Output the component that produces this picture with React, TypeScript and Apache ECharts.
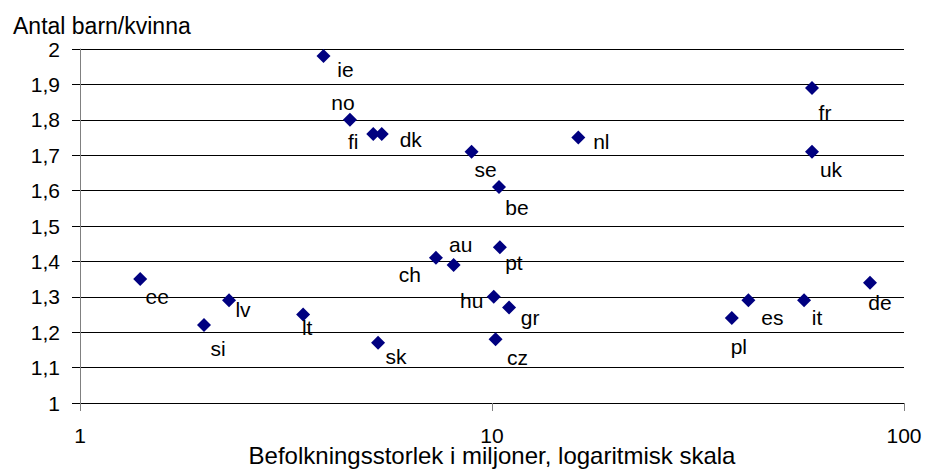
import React, { useEffect, useRef } from "react";
import * as echarts from "echarts";

// Country codes, population (millions) and total fertility rate
const countries = ["ie", "no", "fi", "dk", "se", "nl", "fr", "uk", "ee", "lv", "be", "ch", "au", "pt", "hu", "gr", "cz", "sk", "si", "lt", "pl", "es", "it", "de"];
const population = [3.9, 4.52, 5.15, 5.4, 8.92, 16.2, 59.8, 59.8, 1.4, 2.3, 10.4, 7.31, 8.07, 10.45, 10.1, 11.0, 10.2, 5.29, 2.0, 3.48, 38.2, 41.9, 57.2, 82.7];
const fertility = [1.98, 1.8, 1.76, 1.76, 1.71, 1.75, 1.89, 1.71, 1.35, 1.29, 1.61, 1.41, 1.39, 1.44, 1.3, 1.27, 1.18, 1.17, 1.22, 1.25, 1.24, 1.29, 1.29, 1.34];

const yAxisTitle = "Antal barn/kvinna";
const xAxisTitle = "Befolkningsstorlek i miljoner, logaritmisk skala";

// Label placement (style): offset of label centre from marker centre, px
const labelOffsets: Record<string, [number, number]> = {
  ie: [22, 13], no: [-7, -17], fi: [-20, 8], dk: [29, 6], se: [14, 18], nl: [23, 4],
  fr: [13, 25], uk: [19, 18], ee: [17, 17], lv: [14, 9], be: [18, 20], ch: [-26, 17],
  au: [7, -20], pt: [14, 15], hu: [-22, 4], gr: [21, 10], cz: [22, 18], sk: [18, 14],
  si: [14, 23], lt: [4, 13], pl: [7, 28], es: [24, 17], it: [13, 17], de: [10, 20],
};

const FONT = "Liberation Sans, Arial, sans-serif";

export default function App() {
  const ref = useRef<HTMLDivElement>(null);
  useEffect(() => {
    if (!ref.current) return;
    const chart = echarts.init(ref.current, null, { renderer: "svg" });
    const data = countries.map((c, i) => ({
      name: c,
      value: [population[i], fertility[i]],
      label: { offset: labelOffsets[c] || [10, 10] },
    }));
    chart.setOption({
      animation: false,
      backgroundColor: "#fff",
      textStyle: { fontFamily: FONT },
      title: {
        text: yAxisTitle,
        left: 8,
        top: 9,
        textStyle: { fontFamily: FONT, fontSize: 23, fontWeight: "normal", color: "#000" },
      },
      grid: { left: 80, right: 22, top: 49, bottom: 69, containLabel: false, outerBoundsMode: "none" },
      xAxis: {
        type: "log",
        logBase: 10,
        min: 1,
        max: 100,
        name: xAxisTitle,
        nameLocation: "middle",
        nameGap: 52,
        nameMoveOverlap: false,
        nameTextStyle: { fontFamily: FONT, fontSize: 24, lineHeight: 16, color: "#000", verticalAlign: "middle" },
        axisLine: { show: true, lineStyle: { color: "#000", width: 1 } },
        axisTick: { show: true, length: 8, inside: false, lineStyle: { color: "#808080" } },
        minorTick: { show: false },
        splitLine: { show: false },
        axisLabel: { fontFamily: FONT, fontSize: 21, lineHeight: 17, color: "#000", margin: 24 },
      },
      yAxis: {
        type: "value",
        min: 1,
        max: 2,
        interval: 0.1,
        axisLine: { show: true, lineStyle: { color: "#808080", width: 1 } },
        axisTick: { show: true, length: 8, inside: false, lineStyle: { color: "#000" } },
        splitLine: { show: true, lineStyle: { color: "#000", width: 1 } },
        axisLabel: {
          fontFamily: FONT,
          fontSize: 21,
          color: "#000",
          margin: 20,
          formatter: (v: number) => String(Number(v.toFixed(1))).replace(".", ","),
        },
      },
      series: [
        {
          type: "scatter",
          symbol: "diamond",
          symbolSize: 14,
          itemStyle: { color: "#000080", opacity: 1 },
          label: {
            show: true,
            position: "inside",
            align: "center",
            verticalAlign: "middle",
            formatter: "{b}",
            fontFamily: FONT,
            fontSize: 21,
            color: "#000",
          },
          data,
        },
      ],
    });
    return () => chart.dispose();
  }, []);
  return (
    <div
      ref={ref}
      style={{ position: "absolute", left: 0, top: 0, width: 926, height: 472 }}
    />
  );
}
